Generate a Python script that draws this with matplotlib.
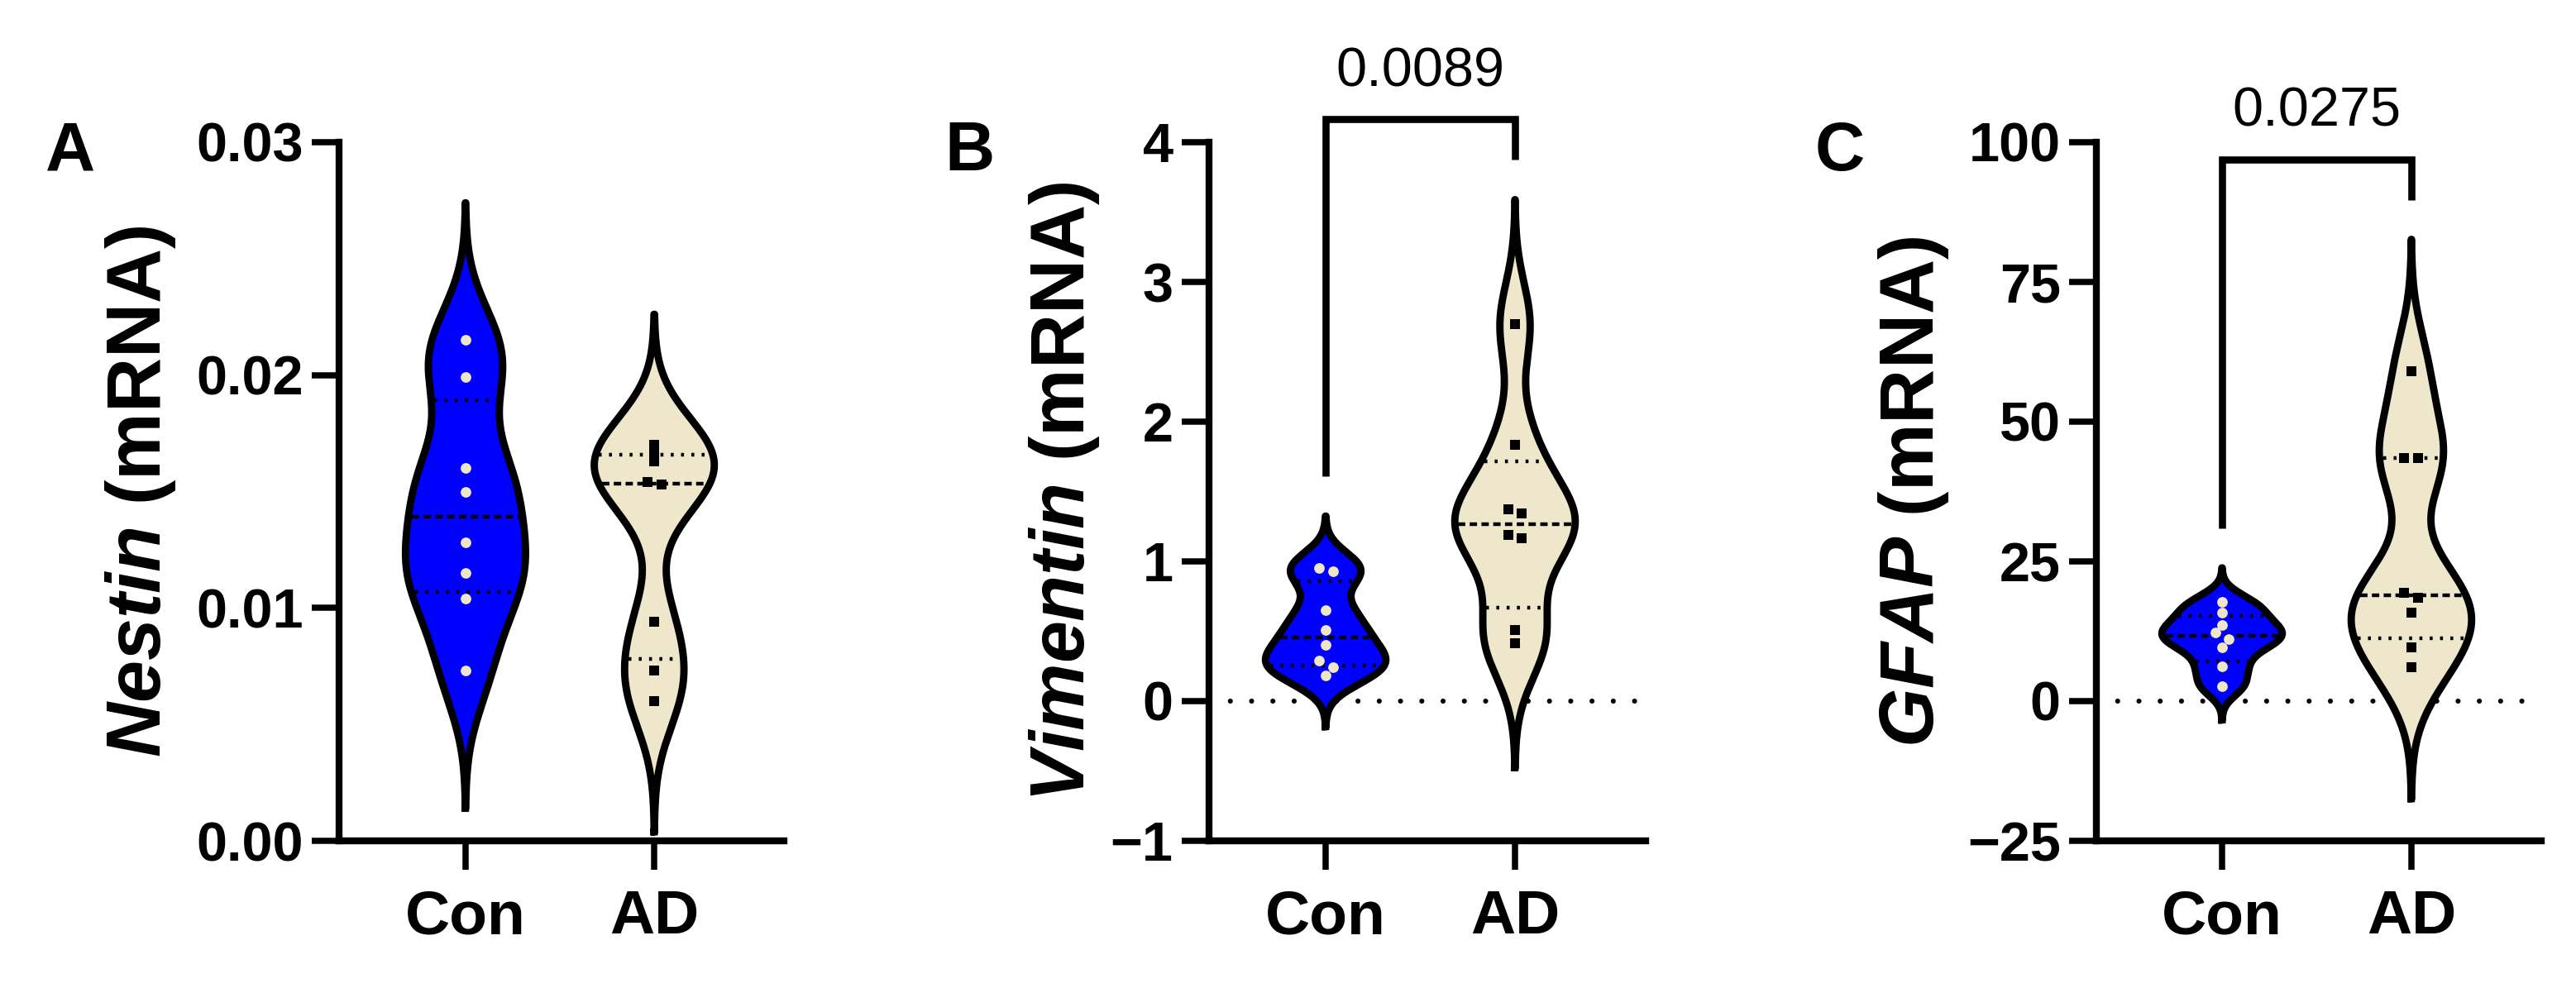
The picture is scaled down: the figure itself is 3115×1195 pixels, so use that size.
import numpy as np
import matplotlib
matplotlib.use('Agg')
import matplotlib.pyplot as plt

plt.rcParams['font.family'] = ['Liberation Sans', 'DejaVu Sans']
plt.rcParams['mathtext.fontset'] = 'custom'
plt.rcParams['mathtext.it'] = 'Liberation Sans:italic:bold'
plt.rcParams['mathtext.rm'] = 'Liberation Sans:bold'
plt.rcParams['mathtext.bf'] = 'Liberation Sans:bold'

# data
groups = ['Con', 'AD']

nestin_con = [0.0215, 0.0199, 0.0160, 0.0150, 0.0128, 0.0115, 0.0104, 0.0073]
nestin_ad = [0.0170, 0.01665, 0.0163, 0.0154, 0.0153, 0.0094, 0.0073, 0.0060]

vimentin_con = [0.955, 0.93, 0.652, 0.507, 0.403, 0.29, 0.245, 0.186]
vimentin_ad = [2.697, 1.833, 1.37, 1.345, 1.19, 1.165, 0.507, 0.416]

gfap_con = [17.76, 15.84, 13.57, 12.33, 11.09, 9.62, 6.22, 2.71]
gfap_ad = [59.05, 43.55, 43.55, 19.34, 18.55, 15.84, 9.62, 6.11]

genes = ['Nestin', 'Vimentin', 'GFAP']
letters = ['A', 'B', 'C']
p_values = [None, '0.0089', '0.0275']
yticks = [[0.0, 0.01, 0.02, 0.03], [-1, 0, 1, 2, 3, 4], [-25, 0, 25, 50, 75, 100]]
ytick_labels = [['0.00', '0.01', '0.02', '0.03'],
                ['\u22121', '0', '1', '2', '3', '4'],
                ['\u221225', '0', '25', '50', '75', '100']]

W, H, DPI = 3115, 1195, 200
BLUE = '#0000FF'
CREAM = '#EEE7CB'
DOT = '#EFE6C8'

fig = plt.figure(figsize=(W / DPI, H / DPI), dpi=DPI)

# layout in pixels: (axis left, axis right), xlim, ylabel centre x, letter x
layout = [
    ((410, 948), (-0.670, 1.687), 170, 55),
    ((1462, 1990), (-0.616, 1.690), 1287, 1142),
    ((2535, 3073), (-0.664, 1.686), 2314, 2195),
]
TOP, BOTTOM = 172, 1017
HALF = 0.318


def spread(vals, px_per_unit, thr=9.0, step=0.037):
    vals = np.asarray(vals, dtype=float)
    order = np.argsort(-vals, kind='stable')
    offs = np.zeros(len(vals))
    clusters, cur = [], [order[0]]
    for i in order[1:]:
        if (vals[cur[-1]] - vals[i]) * px_per_unit < thr:
            cur.append(i)
        else:
            clusters.append(cur)
            cur = [i]
    clusters.append(cur)
    for c in clusters:
        if len(c) == 2:
            pat = [-1, 1]
        elif len(c) == 3:
            pat = [0, -1, 1]
        else:
            pat = [((k + 1) // 2) * (-1 if k % 2 else 1) for k in range(len(c))]
        for i, k in zip(c, pat):
            offs[i] = k * step
    return offs


def violin(ax, x, vals, face):
    v = np.asarray(vals, dtype=float)
    bw = 0.41 * v.std(ddof=1)
    y = np.linspace(v.min() - 3 * bw, v.max() + 3 * bw, 600)
    d = np.exp(-0.5 * ((y[:, None] - v[None, :]) / bw) ** 2).sum(axis=1)
    half = d / d.max() * HALF
    ax.fill_betweenx(y, x - half, x + half, facecolor=face, edgecolor='none', zorder=2)
    ax.plot(np.r_[x - half, (x + half)[::-1], x - half[0]], np.r_[y, y[::-1], y[0]],
            color='black', lw=3.2, solid_joinstyle='round', zorder=2.5)
    q1, med, q3 = np.percentile(v, [25, 50, 75], method='weibull')
    dotted = (0, (0.8, 2.0))
    dashed = (0, (2.0, 1.2))
    for q, ls in ((q1, dotted), (med, dashed), (q3, dotted)):
        w = np.interp(q, y, half) - 0.018
        ax.plot([x - w, x + w], [q, q], color='black', lw=1.6, ls=ls, zorder=3,
                dash_capstyle='butt')
    return y.max()


datasets = [(nestin_con, nestin_ad), (vimentin_con, vimentin_ad), (gfap_con, gfap_ad)]

for k in range(3):
    (xl, xr), xlim, ylab_x, let_x = layout[k]
    ax = fig.add_axes([xl / W, 1 - BOTTOM / H, (xr - xl) / W, (BOTTOM - TOP) / H])
    ylo, yhi = yticks[k][0], yticks[k][-1]
    ax.set_xlim(*xlim)
    ax.set_ylim(ylo, yhi)
    px_per_unit = (BOTTOM - TOP) / (yhi - ylo)
    unit_per_px = 1.0 / px_per_unit

    if ylo < 0:
        ax.axhline(0, color='black', lw=2.2, ls=(0, (0.01, 4.2)),
                   dash_capstyle='round', zorder=1)

    con, ad = datasets[k]
    top_con = violin(ax, 0, con, BLUE)
    top_ad = violin(ax, 1, ad, CREAM)

    ax.plot(0 + spread(con, px_per_unit), con, 'o', ms=4.6, mew=0, color=DOT, zorder=4)
    ax.plot(1 + spread(ad, px_per_unit), ad, 's', ms=4.3, mew=0, color='black', zorder=4)

    if p_values[k]:
        leg_con = top_con + 48 * unit_per_px
        leg_ad = top_ad + 48 * unit_per_px
        bar = max(leg_con, leg_ad) + 49 * unit_per_px
        ax.plot([0, 0, 1, 1], [leg_con, bar, bar, leg_ad], color='black', lw=3.1,
                solid_joinstyle='miter', solid_capstyle='butt', clip_on=False, zorder=5)
        ax.text(0.5, bar + 40 * unit_per_px, p_values[k], ha='center', va='baseline',
                fontsize=24, color='black')

    for s in ('top', 'right'):
        ax.spines[s].set_visible(False)
    for s in ('left', 'bottom'):
        ax.spines[s].set_linewidth(3)
    ax.set_yticks(yticks[k])
    ax.set_yticklabels(ytick_labels[k], fontsize=24, fontweight='bold')
    ax.set_xticks([0, 1])
    ax.set_xticklabels(groups, fontsize=27, fontweight='bold')
    ax.tick_params(axis='y', length=12, width=2.7, pad=3.6)
    ax.tick_params(axis='x', length=12.5, width=2.7, pad=8.5)
    ax.patch.set_visible(False)

    fig.text(ylab_x / W, 1 - 594.5 / H, r'$\mathit{%s}$ (mRNA)' % genes[k],
             rotation=90, ha='center', va='center', fontsize=33, fontweight='bold')
    fig.text(let_x / W, 1 - 206 / H, letters[k], ha='left', va='baseline',
             fontsize=30, fontweight='bold')

fig.savefig('out.png', dpi=DPI)
plt.close(fig)
